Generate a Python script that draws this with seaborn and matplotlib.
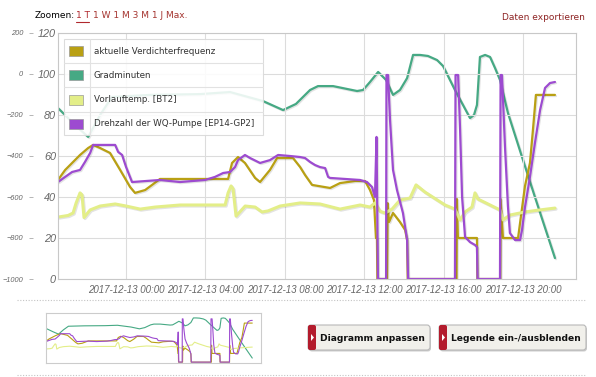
import matplotlib
matplotlib.use("Agg")
import matplotlib.pyplot as plt
import matplotlib.patheffects as pe
import seaborn as sns
from matplotlib.patches import Rectangle, FancyBboxPatch, Polygon
from matplotlib.lines import Line2D
from matplotlib.transforms import Affine2D

# --- Daten (Stunden relativ zu 2017-12-13 00:00) ---
verdichter_h = [-3.43, -3.07, -2.72, -2.32, -1.91, -1.66, -1.31, -0.81, -0.30, 0.20, 0.45, 0.96, 1.31, 1.71,
                5.14, 5.34, 5.64, 5.99, 6.50, 6.75, 7.25, 7.61, 8.41, 8.77, 9.02, 9.37, 10.28, 10.78, 11.54,
                12.04, 12.29, 12.49, 12.59, 12.64, 12.66, 13.15, 13.18, 13.25, 13.45, 13.80, 14.06, 14.16,
                14.19, 16.65, 16.67, 16.72, 17.68, 17.70, 18.85, 18.87, 18.99, 19.75, 20.10, 20.35, 20.50,
                20.65, 21.61]
verdichter = [48.3, 53.2, 56.6, 60.5, 63.9, 65.4, 63.9, 61.5, 53.2, 44.9, 42.0, 43.4, 45.9, 48.8,
              48.8, 56.6, 59.5, 56.6, 49.3, 47.3, 53.2, 59.0, 59.0, 54.6, 50.7, 45.9, 44.4, 46.8, 47.8,
              47.8, 43.4, 38.5, 20.0, 20.0, 0, 0, 37.0, 27.8, 32.2, 27.8, 23.9, 19.0,
              0, 0, 39.0, 20.0, 20.0, 0, 0, 39.0, 20.0, 20.0, 45.4, 56.6, 72.7,
              89.8, 89.8]

grad_h = [-3.43, -2.57, -1.91, -1.31, -0.71, 1.21, 3.73, 5.24, 6.90, 7.91, 8.56, 9.27, 9.67, 10.43,
          11.64, 11.94, 12.29, 12.70, 13.10, 13.45, 13.80, 14.16, 14.46, 14.81, 15.21, 15.67, 15.97,
          16.57, 17.33, 17.53, 17.68, 17.83, 18.09, 18.34, 18.59, 18.84, 19.24, 19.95, 20.60, 21.61]
gradminuten = [-166, -249, -307, -200, -112, -102, -98, -88, -132, -176, -146, -78, -59, -59,
               -83, -78, -39, 10, -29, -102, -78, -20, 93, 93, 88, 68, 39,
               -78, -215, -200, -151, 83, 93, 83, 29, -29, -190, -405, -600, -898]

vorlauf_h = [-3.43, -2.92, -2.67, -2.52, -2.32, -2.22, -2.12, -1.81, -1.31, -0.55, 0.00, 0.71, 1.46,
             2.72, 4.99, 5.14, 5.29, 5.39, 5.54, 6.00, 6.50, 6.85, 7.15, 7.76, 8.77, 9.77, 10.78,
             11.79, 12.29, 12.54, 12.80, 13.05, 13.40, 13.80, 14.31, 14.61, 15.06, 16.07, 16.57,
             16.83, 17.08, 17.43, 17.58, 17.73, 18.34, 18.84, 18.99, 19.34, 20.10, 20.86, 21.61]
vorlauf = [30.2, 31.0, 32.2, 37.0, 42.0, 41.0, 30.0, 33.7, 35.6, 36.6, 35.6, 34.1, 35.1,
           36.1, 36.1, 42.0, 45.4, 44.0, 30.7, 35.6, 35.1, 32.7, 33.2, 35.6, 37.1, 36.6, 34.1,
           36.1, 35.1, 37.1, 33.0, 32.2, 34.1, 38.5, 39.5, 45.9, 42.4, 36.1, 34.1,
           28.8, 32.7, 35.1, 42.0, 39.0, 36.1, 33.7, 28.8, 31.2, 32.7, 33.7, 34.6]

pumpe_h = [-3.43, -3.07, -2.72, -2.32, -2.07, -1.81, -1.66, -0.55, -0.40, -0.20, 0.00, 0.30, 1.71,
           2.72, 3.98, 4.48, 4.89, 5.24, 5.49, 5.64, 5.99, 6.25, 6.75, 7.25, 7.66, 8.26, 8.77, 9.02,
           9.27, 9.52, 9.77, 10.03, 10.18, 10.28, 11.79, 12.14, 12.39, 12.54, 12.62, 12.69, 13.10,
           13.12, 13.20, 13.30, 13.45, 13.65, 13.95, 14.16, 14.21, 16.57, 16.60, 16.73, 16.83,
           16.93, 17.08, 17.33, 17.58, 17.68, 17.71, 18.84, 18.87, 18.94, 19.09, 19.24, 19.34,
           19.60, 19.85, 19.95, 20.10, 20.35, 20.60, 20.86, 21.11, 21.36, 21.61]
pumpe = [47.3, 49.8, 52.2, 53.2, 57.1, 61.5, 65.4, 65.4, 62.0, 60.5, 54.6, 47.3, 48.3,
         47.3, 48.3, 49.8, 51.7, 52.2, 54.6, 58.0, 60.5, 59.0, 56.6, 58.0, 60.5, 60.0, 59.5, 59.0,
         57.1, 55.6, 54.6, 54.1, 49.8, 49.3, 48.3, 47.3, 44.9, 40.0, 69.3, 0, 0,
         99.5, 99.5, 77.5, 53.2, 43.4, 32.2, 19.0, 0, 0, 99.5, 99.5, 72.7,
         40.0, 20.5, 18.0, 16.6, 15.6, 0, 0, 99.5, 99.5, 64.9, 35.6, 22.4,
         19.0, 19.0, 23.9, 35.1, 49.8, 66.3, 82.4, 93.2, 95.6, 96.1]

tick_hours = [0, 4, 8, 12, 16, 20]
tick_labels = ["2017-12-13 00:00", "2017-12-13 04:00", "2017-12-13 08:00",
               "2017-12-13 12:00", "2017-12-13 16:00", "2017-12-13 20:00"]
serien = ["aktuelle Verdichterfrequenz", "Gradminuten", "Vorlauftemp. [BT2]",
          "Drehzahl der WQ-Pumpe [EP14-GP2]"]
farben = ["#b9a013", "#46a984", "#e3ee88", "#9d4bd0"]
zoom_links = ["1 T", "1 W 1 M 3 M 1 J Max."]

sns.set_theme(style="white")
plt.rcParams['font.family'] = ['DejaVu Sans']

W, H = 596, 377
fig = plt.figure(figsize=(W / 100, H / 100), dpi=100)
fig.patch.set_facecolor("white")
# Pixel-Koordinaten (oben links = 0,0)
T = Affine2D().scale(0.01, -0.01).translate(0, H / 100) + fig.dpi_scale_trans


def box(x0, y0, x1, y1):
    return [x0 / W, 1 - y1 / H, (x1 - x0) / W, (y1 - y0) / H]


shadow = [pe.SimpleLineShadow(offset=(0.8, -0.8), alpha=0.12, shadow_color="k"), pe.Normal()]


def linie(a, x, y, farbe, lw, fx=None):
    sns.lineplot(x=x, y=y, ax=a, color=farbe, lw=lw, estimator=None, sort=False,
                 legend=False, path_effects=fx)


# --- Hauptdiagramm ---
ax = fig.add_axes(box(58, 33, 576, 279))
ax2 = ax.twinx()
ax.set_zorder(ax2.get_zorder() + 1)
ax.patch.set_visible(False)

linie(ax, verdichter_h, verdichter, farben[0], 1.6, shadow)
linie(ax2, grad_h, gradminuten, farben[1], 1.6, shadow)
linie(ax, vorlauf_h, vorlauf, farben[2], 2.2, shadow)
linie(ax, pumpe_h, pumpe, farben[3], 1.6, shadow)

ax.set_xlim(-3.43, 22.67)
ax.set_ylim(0, 120)
ax2.set_ylim(-1000, 200)
ax.set_xticks(tick_hours)
ax.set_xticklabels(tick_labels)
ax.set_yticks(range(0, 121, 20))
ax2.set_yticks(range(-1000, 201, 200))
ax.set_xlabel("")
ax.set_ylabel("")
ax2.set_ylabel("")

ax.grid(True, color="#dcdcdc", lw=0.8)
for s in ax.spines.values():
    s.set_color("#c8c8c8")
    s.set_linewidth(0.8)
for s in ax2.spines.values():
    s.set_visible(False)

ax.tick_params(axis="y", length=0, pad=1.5, labelsize=7.8, labelcolor="#666666")
ax.tick_params(axis="x", length=0, pad=4, labelsize=7, labelcolor="#666666")
ax2.yaxis.tick_left()
ax2.spines["left"].set_position(("outward", 18))
ax2.tick_params(axis="y", left=True, right=False, labelleft=True, labelright=False,
                length=3, width=0.6, color="#aaaaaa", pad=4, labelsize=5.3, labelcolor="#666666")
for lbl in ax.get_xticklabels() + ax.get_yticklabels() + ax2.get_yticklabels():
    lbl.set_fontstyle("italic")
    lbl.set_family("Liberation Sans")

# --- Legende als Tabelle ---
rows = [39, 63, 87, 112, 135]
fig.add_artist(Rectangle((64, 39), 199, 96, transform=T, facecolor="white", alpha=0.88,
                         edgecolor="#d8d8d8", lw=0.8, zorder=10))
for yy in rows[1:-1]:
    fig.add_artist(Line2D([64, 263], [yy, yy], transform=T, color="#e2e2e2", lw=0.8, zorder=11))
fig.add_artist(Line2D([90, 90], [39, 135], transform=T, color="#e2e2e2", lw=0.8, zorder=11))
for i, (name, farbe) in enumerate(zip(serien, farben)):
    yc = (rows[i] + rows[i + 1]) / 2
    fig.add_artist(Rectangle((69, yc - 5), 14, 10, transform=T, facecolor=farbe,
                             edgecolor="#999999", lw=0.5, zorder=12))
    fig.text(94, yc, name, transform=T, fontsize=6.3, color="#333333", va="center", zorder=12)

# --- Kopfzeile ---
fig.text(35, 16, "Zoomen:", transform=T, fontsize=6.5, color="black", va="center")
fig.text(76, 16, zoom_links[0], transform=T, fontsize=6.5, color="#b0282d", va="center")
fig.add_artist(Line2D([76, 89], [21.5, 21.5], transform=T, color="#b0282d", lw=0.8))
fig.text(93, 16, zoom_links[1], transform=T, fontsize=6.5, color="#a5342f", va="center")
fig.text(585, 17, "Daten exportieren", transform=T, fontsize=6.5, color="#8e2424",
         va="center", ha="right")

# --- gepunktete Trennlinien ---
for yy in (300, 375):
    fig.add_artist(Line2D([17, 585], [yy, yy], transform=T, color="#c4c4c4", lw=0.8,
                          ls=(0, (1, 1.5))))

# --- Navigator ---
nav = fig.add_axes(box(46, 313, 261, 363))
nav2 = nav.twinx()
nav.set_zorder(nav2.get_zorder() + 1)
nav.patch.set_visible(False)
linie(nav, verdichter_h, verdichter, farben[0], 0.8)
linie(nav2, grad_h, gradminuten, farben[1], 0.8)
linie(nav, vorlauf_h, vorlauf, farben[2], 0.8)
linie(nav, pumpe_h, pumpe, farben[3], 0.8)
nav.set_xlim(-3.43, 22.67)
nav.set_ylim(-2, 113)
nav2.set_ylim(-1020, 215)
for a in (nav, nav2):
    a.set_xticks([])
    a.set_yticks([])
    a.set_xlabel("")
    a.set_ylabel("")
for s in nav.spines.values():
    s.set_color("#cccccc")
    s.set_linewidth(0.8)
for s in nav2.spines.values():
    s.set_visible(False)

# --- Schaltflächen ---
def knopf(x0, x1, text):
    y0, y1 = 325, 350
    fig.add_artist(FancyBboxPatch((x0 + 1, y0 + 1.5), x1 - x0, y1 - y0, transform=T,
                                  boxstyle="round,pad=0,rounding_size=3",
                                  facecolor="#9a9a9a", edgecolor="none", alpha=0.5))
    fig.add_artist(FancyBboxPatch((x0, y0), x1 - x0, y1 - y0, transform=T,
                                  boxstyle="round,pad=0,rounding_size=3",
                                  facecolor="#f1f0eb", edgecolor="#b8b8b8", lw=0.8))
    fig.add_artist(FancyBboxPatch((x0, y0), 8, y1 - y0, transform=T,
                                  boxstyle="round,pad=0,rounding_size=2",
                                  facecolor="#b31b2c", edgecolor="none"))
    fig.add_artist(Polygon([[x0 + 3, 334], [x0 + 3, 341], [x0 + 6, 337.5]], closed=True,
                           transform=T, facecolor="white", edgecolor="none"))
    fig.text(x0 + 12, 338.5, text, transform=T, fontsize=6.6, fontweight="bold",
             color="#111111", va="center")


knopf(308, 430, "Diagramm anpassen")
knopf(439, 586, "Legende ein-/ausblenden")

fig.savefig("out.png", dpi=100, facecolor="white")
